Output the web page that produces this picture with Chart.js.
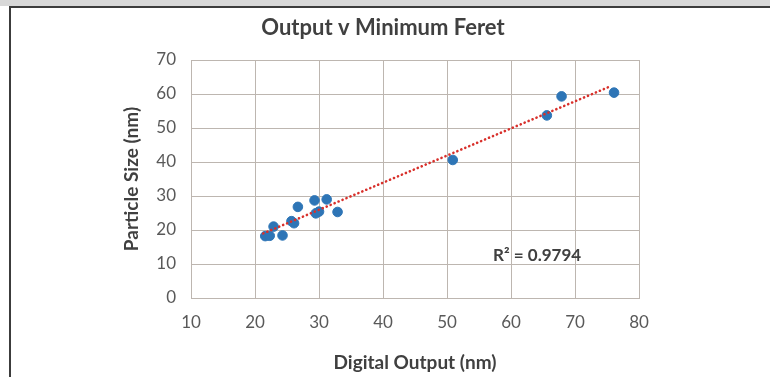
<!DOCTYPE html>
<html>
<head>
<meta charset="utf-8">
<script src="https://cdn.jsdelivr.net/npm/chart.js@4.4.1/dist/chart.umd.min.js"></script>
<style>
  html, body { margin: 0; padding: 0; background: #fff; }
  #wrap { position: relative; width: 770px; height: 377px; overflow: hidden; }
  #band { position: absolute; left: 0; top: 0; width: 770px; height: 6px; background: #d8d8d8; }
  #frame { position: absolute; left: 9px; top: 6px; width: 770px; height: 380px;
           border-left: 2px solid #3c3c3c; border-top: 2px solid #3c3c3c; box-sizing: border-box; }
  canvas { position: absolute; left: 0; top: 0; }
</style>
</head>
<body>
<div id="wrap">
  <div id="band"></div>
  <div id="frame"></div>
  <canvas id="myScatter" width="770" height="377"></canvas>
</div>
<script>
// digital output (nm) vs minimum feret particle size (nm)
const digitalOutput = [21.6, 22.3, 22.9, 24.3, 25.7, 26.1, 26.7, 29.3, 29.5, 30.0, 31.2, 32.9, 50.9, 65.6, 67.9, 76.1];
const particleSize  = [18.2, 18.3, 21.0, 18.4, 22.6, 22.0, 26.8, 28.7, 24.9, 25.4, 29.0, 25.3, 40.6, 53.7, 59.3, 60.4];

// end points of the excel trendline, as drawn
const trendX = [21.3, 75.7];
const trendY = [19.0, 62.4];

const rSquaredText = 'R² = 0.9794';
const rLabelPos = [57.2, 12.4];

const xTicks = [10, 20, 30, 40, 50, 60, 70, 80];
const yTicks = [0, 10, 20, 30, 40, 50, 60, 70];

const pts = digitalOutput.map((x, i) => ({ x: x, y: particleSize[i] }));
const trend = trendX.map((x, i) => ({ x: x, y: trendY[i] }));

// draws the R² note at a data position
const rLabel = {
    id: 'rLabel',
    afterDatasetsDraw(chart) {
        let ctx = chart.ctx;
        let px = chart.scales.x.getPixelForValue(rLabelPos[0]);
        let py = chart.scales.y.getPixelForValue(rLabelPos[1]);
        ctx.save();
        ctx.font = 'bold 17px Lato';
        ctx.fillStyle = '#404040';
        ctx.textBaseline = 'middle';
        ctx.fillText(rSquaredText, px, py);
        ctx.restore();
    }
};

let ctx = document.getElementById('myScatter').getContext('2d');

new Chart(ctx, {
    type: 'scatter',
    data: {
        datasets: [{
            label: 'Minimum Feret',
            data: pts,
            backgroundColor: '#2e75b6',
            borderColor: '#2e75b6',
            pointRadius: 4.8,
            pointHoverRadius: 4.8,
            order: 1
        }, {
            label: 'Linear trend',
            type: 'line',
            data: trend,
            showLine: true,
            fill: false,
            pointRadius: 0,
            borderColor: '#d8302b',
            borderWidth: 2.6,
            borderDash: [0.1, 4.2],
            borderCapStyle: 'round',
            order: 0
        }]
    },
    options: {
        responsive: false,
        animation: false,
        devicePixelRatio: 1,
        layout: { padding: { left: 120, right: 124, top: 0, bottom: 0 } },
        plugins: {
            legend: { display: false },
            tooltip: { enabled: false },
            title: {
                display: true,
                text: 'Output v Minimum Feret',
                color: '#404040',
                font: { family: 'Lato', size: 22, weight: 'bold' },
                padding: { top: 15, bottom: 18.6 }
            }
        },
        scales: {
            x: {
                type: 'linear',
                min: 10,
                max: 80,
                afterBuildTicks: s => { s.ticks = xTicks.map(v => ({ value: v })); },
                grid: { color: '#bdb6b0', lineWidth: 1, drawTicks: false },
                border: { color: '#bdb6b0', width: 1 },
                ticks: { color: '#595959', font: { family: 'Lato', size: 17 }, padding: 14 },
                title: {
                    display: true,
                    text: 'Digital Output (nm)',
                    color: '#404040',
                    font: { family: 'Lato', size: 19, weight: 'bold' },
                    padding: { top: 4, bottom: 3 }
                },
                afterFit: s => { s.height = 79; }
            },
            y: {
                type: 'linear',
                min: 0,
                max: 70,
                afterBuildTicks: s => { s.ticks = yTicks.map(v => ({ value: v })); },
                grid: { color: '#bdb6b0', lineWidth: 1, drawTicks: false },
                border: { color: '#bdb6b0', width: 1 },
                ticks: { color: '#595959', font: { family: 'Lato', size: 17 }, padding: 15 },
                title: {
                    display: true,
                    text: 'Particle Size (nm)',
                    color: '#404040',
                    font: { family: 'Lato', size: 19, weight: 'bold' },
                    padding: { top: 0, bottom: 0 }
                },
                afterFit: s => { s.width = 71; }
            },
            y2: {
                position: 'right',
                display: true,
                grid: { display: false },
                border: { display: false },
                ticks: { display: false },
                afterFit: s => { s.width = 7; }
            }
        }
    },
    plugins: [rLabel]
});
</script>
</body>
</html>
